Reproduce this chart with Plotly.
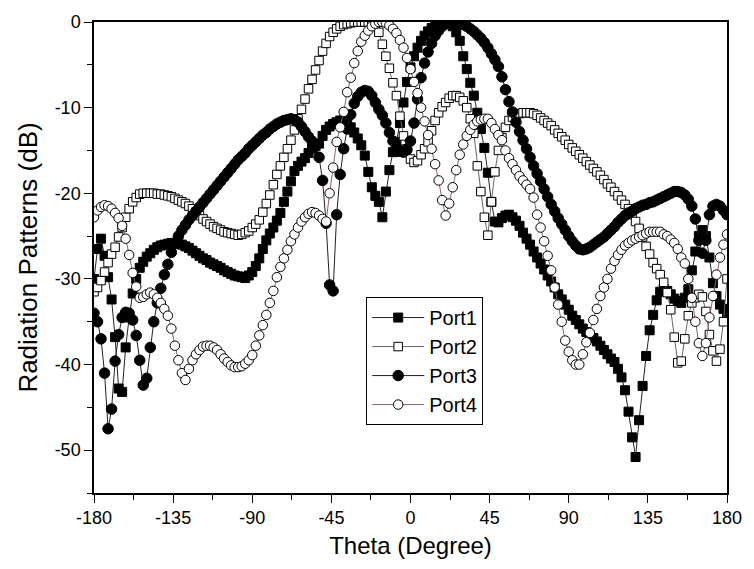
import plotly.graph_objects as go

theta = list(range(-180, 181, 2))

port1 = [
    -30, -26.5, -25.3, -27.3, -29.8, -32.4, -36.8, -42.8, -43.2, -38,
    -34.5, -31.7, -30, -28.7, -28, -27.4, -27, -26.6, -26.3, -26.1,
    -26, -25.9, -25.8, -25.8, -25.9, -26, -26.2, -26.4, -26.7, -27,
    -27.3, -27.6, -27.8, -28.1, -28.3, -28.5, -28.7, -29, -29.2, -29.4,
    -29.6, -29.7, -29.8, -29.9, -29.6, -29.2, -28.5, -27.6, -26.5, -25.5,
    -24.7, -24, -23.2, -22.3, -21, -19.8, -18.6, -17.4, -16.8, -16.3,
    -15.9, -15.3, -14.8, -14.5, -14.2, -13.3, -12.6, -12.2, -11.9, -11.7,
    -11.5, -11.5, -11.8, -12.3, -12.9, -13.6, -14.4, -15.6, -17.5, -19.3,
    -20.3, -21, -22.8, -19.8, -17.3, -15.2, -14, -11.8, -9.4, -7,
    -5.3, -4, -3, -2.2, -1.6, -1.1, -0.7, -0.4, -0.2, -0.05,
    0, -0.1, -0.5, -1.2, -2.2, -4, -5.5, -7.1, -8.6, -10.6,
    -12.5, -14.7, -17.6, -21, -23.3, -23.4, -22.9, -22.6, -22.5, -22.8,
    -23.2, -23.8, -24.6, -25.3, -26, -26.8, -27.5, -28.2, -28.9, -29.6,
    -30.3, -31, -31.8, -32.4, -33, -33.6, -34.3, -34.8, -35.3, -35.8,
    -36.2, -36.6, -36.9, -37.3, -37.8, -38.3, -38.8, -39.3, -39.7, -40.5,
    -41.5, -43, -45.5, -48.5, -50.8, -46.5, -42.5, -39, -36, -34.2,
    -32.5, -31.5, -31.2, -31.4, -31.8, -32.3, -32.6, -32.8, -32.2, -31.2,
    -29, -26.8, -25, -24.3, -25, -27.5, -30.5, -32, -33, -33.5,
    -34,
]

port2 = [
    -31.5, -31, -30.2, -29.2, -28.1, -27.1, -26.3, -25.1, -24, -22.8,
    -21.8, -21, -20.5, -20.1, -20, -20, -20, -20, -20.1, -20.1,
    -20.2, -20.3, -20.4, -20.6, -20.8, -21, -21.2, -21.5, -21.8, -22.2,
    -22.6, -23, -23.3, -23.6, -23.9, -24.1, -24.3, -24.5, -24.6, -24.7,
    -24.8, -24.9, -24.8, -24.6, -24.4, -24, -23.6, -23.1, -22.2, -21.2,
    -20.2, -19, -17.8, -16.8, -15.8, -14.8, -13.8, -12.6, -11.3, -10.2,
    -9, -7.8, -6.7, -5.6, -4.5, -3.4, -2.5, -1.7, -1.2, -0.8,
    -0.5, -0.3, -0.2, -0.1, 0, 0, 0, 0, 0, -0.1,
    -0.4, -1.2, -2.6, -4, -5.4, -7.1, -8.6, -11, -13.3, -14.8,
    -16, -16.4, -16.2, -15.5, -14.8, -14, -12.7, -11.5, -10.6, -9.9,
    -9.4, -8.9, -8.6, -8.6, -8.8, -9.2, -10, -11.3, -13, -16.8,
    -19.8, -22.8, -24.9, -21, -17.5, -15, -13.5, -12.3, -11.5, -11.1,
    -10.8, -10.7, -10.6, -10.6, -10.6, -10.7, -10.9, -11.2, -11.5, -11.8,
    -12.1, -12.6, -13, -13.4, -13.8, -14.3, -14.7, -15.1, -15.5, -15.9,
    -16.3, -16.7, -17.1, -17.5, -17.9, -18.4, -18.9, -19.3, -19.8, -20.3,
    -20.8, -21.3, -21.8, -22.5, -23.3, -24.1, -25.1, -26.2, -27.1, -28.1,
    -28.8, -29.5, -30.4, -31.6, -33.6, -36.8, -39.8, -39.6, -37, -34.3,
    -32.8, -32.2, -31.8, -32.1, -33.8, -36.5, -38.4, -39.6, -38.2, -35,
    -30,
]

port3 = [
    -34, -35, -37, -41, -47.5, -45.2, -39.6, -36.5, -34.5, -33.9,
    -34, -34.8, -36.6, -39.5, -42.4, -41.6, -38, -35, -32.8, -31.1,
    -29.5, -28.3, -26.9, -25.8, -25, -24.3, -23.7, -23.1, -22.6, -22.1,
    -21.6, -21.1, -20.6, -20.1, -19.6, -19.1, -18.6, -18.1, -17.6, -17.1,
    -16.6, -16.1, -15.7, -15.3, -14.8, -14.4, -14, -13.6, -13.2, -12.9,
    -12.5, -12.2, -11.9, -11.7, -11.5, -11.4, -11.3, -11.4, -11.7, -12.2,
    -12.8, -13.4, -13.9, -14.3, -15.8, -18.5, -23.5, -30.7, -31.4, -22.5,
    -17.8, -14.8, -12.5, -10.8, -9.5, -8.7, -8.2, -8, -8.1, -8.6,
    -9.4, -10.2, -10.9, -11.8, -12.9, -13.9, -14.6, -15.1, -15.2, -14.9,
    -13.9, -11.8, -9, -6.5, -4.8, -3.5, -2.5, -1.6, -1, -0.5,
    -0.2, 0, 0, 0, -0.1, -0.3, -0.5, -0.8, -1.1, -1.5,
    -1.9, -2.4, -3, -3.7, -4.4, -5.2, -6.4, -7.9, -9.3, -10.5,
    -11.7, -12.8, -13.8, -14.8, -15.8, -16.8, -17.7, -18.6, -19.5, -20.4,
    -21.3, -22.1, -22.9, -23.6, -24.3, -25, -25.6, -26.1, -26.5, -26.6,
    -26.5, -26.3, -26, -25.7, -25.4, -25.1, -24.7, -24.3, -23.9, -23.4,
    -23, -22.6, -22.3, -22.1, -21.8, -21.6, -21.4, -21.3, -21.1, -21,
    -20.8, -20.6, -20.4, -20.2, -20, -19.8, -19.8, -19.9, -20.2, -20.7,
    -21.5, -23, -25.5, -27, -25.5, -22.5, -21.5, -21.3, -21.5, -22,
    -22.5,
]

port4 = [
    -22.8, -22, -21.6, -21.4, -21.5, -21.8, -22.3, -22.9, -23.8, -25.3,
    -27.2, -29.3, -30.9, -32.2, -32.1, -31.8, -31.6, -31.8, -32.2, -32.8,
    -33.5, -34.3, -35.8, -37.8, -39.5, -41, -41.8, -40.5, -39.5, -38.8,
    -38.3, -37.9, -37.8, -37.8, -38, -38.3, -38.8, -39.3, -39.7, -40.1,
    -40.3, -40.3, -40.2, -39.9, -39.5, -38.9, -37.8, -36.6, -35.4, -34.2,
    -32.8, -31.4, -29.8, -28.6, -27.6, -26.6, -25.6, -24.8, -24, -23.3,
    -22.8, -22.4, -22.2, -22.3, -22.6, -23, -23.3, -20, -17, -14,
    -12.3, -10.5, -8.2, -6.5, -4.8, -3.4, -2.3, -1.6, -1, -0.5,
    -0.2, 0, 0, -0.1, -0.4, -0.8, -1.3, -2.1, -3, -4.2,
    -5.5, -7, -8.3, -10, -11.6, -13.2, -14.8, -16.6, -18.5, -20.8,
    -22.6, -21.2, -19.3, -17.3, -15.5, -14.3, -13.3, -12.6, -12, -11.6,
    -11.4, -11.3, -11.3, -11.8, -12.5, -13.2, -13.8, -15, -15.9, -16.6,
    -17.3, -18, -18.5, -19, -19.5, -20.5, -22.5, -24, -25.6, -27.3,
    -29, -31, -33, -35, -37.2, -38.5, -39.5, -40, -40, -38.8,
    -37.4, -36.3, -34.8, -33.5, -32, -31, -30, -28.8, -27.9, -27.2,
    -26.6, -26.1, -25.8, -25.5, -25.3, -25.1, -24.9, -24.7, -24.5, -24.5,
    -24.5, -24.5, -24.8, -25, -25.4, -25.8, -26.5, -27.5, -28.2, -30,
    -32.2, -35, -37.5, -39, -37.5, -34.5, -32, -29.5, -27.5, -26,
    -24.8,
]

names = ["Port1", "Port2", "Port3", "Port4"]
series = [port1, port2, port3, port4]
symbols = ["square", "square", "circle", "circle"]
fills = ["black", "white", "black", "white"]
sizes = [9, 8.5, 10.5, 9.5]
linecolors = ["#222222", "#666666", "#222222", "#886666"]

x_ticks = [-180, -135, -90, -45, 0, 45, 90, 135, 180]
y_ticks = [0, -10, -20, -30, -40, -50]

FONT = "Liberation Sans, Arial, sans-serif"

fig = go.Figure()
for name, ys, sym, fc, sz, lc in zip(names, series, symbols, fills, sizes, linecolors):
    fig.add_trace(go.Scatter(
        x=theta, y=ys, name=name, mode="lines+markers",
        line=dict(color=lc, width=1),
        marker=dict(symbol=sym, size=sz, color=fc, line=dict(color="black", width=1)),
    ))

axis_common = dict(showgrid=False, zeroline=False, linecolor="black", linewidth=1.5,
                   tickcolor="black", tickwidth=1.2)

fig.update_layout(
    width=754, height=569,
    margin=dict(l=94, r=19, t=19, b=76, pad=0),
    paper_bgcolor="white", plot_bgcolor="white",
    font=dict(family=FONT, color="black"),
    showlegend=True,
    legend=dict(x=0.43, y=0.416, xanchor="left", yanchor="top",
                bgcolor="white", bordercolor="black", borderwidth=1,
                font=dict(size=20, family=FONT), itemwidth=52,
                tracegroupgap=0),
    xaxis=dict(range=[-180, 180], tickvals=x_ticks, ticktext=[str(v) for v in x_ticks],
               ticks="outside", ticklen=8, mirror=True, showline=True,
               tickfont=dict(size=18),
               minor=dict(ticks="outside", ticklen=5, tick0=-157.5, dtick=45, tickcolor="black"),
               title=dict(text="Theta (Degree)", font=dict(size=24), standoff=10),
               **axis_common),
    yaxis=dict(range=[-55, 0], tickvals=y_ticks, ticktext=[str(v) for v in y_ticks],
               ticks="outside", ticklen=8, mirror=True, showline=True,
               tickfont=dict(size=18),
               minor=dict(ticks="outside", ticklen=5, tick0=-5, dtick=10, tickcolor="black"),
               title=dict(text="Radiation Patterns (dB)", font=dict(size=26), standoff=10),
               **axis_common),
    xaxis2=dict(overlaying="x", side="top", anchor="y", range=[-180, 180],
                tickvals=x_ticks, ticks="inside", ticklen=8, showticklabels=False,
                minor=dict(ticks="inside", ticklen=5, tick0=-157.5, dtick=45, tickcolor="black"),
                showgrid=False, zeroline=False, showline=False, tickcolor="black", tickwidth=1.2),
    yaxis2=dict(overlaying="y", side="right", anchor="x", range=[-55, 0],
                tickvals=y_ticks, ticks="inside", ticklen=8, showticklabels=False,
                minor=dict(ticks="inside", ticklen=5, tick0=-5, dtick=10, tickcolor="black"),
                showgrid=False, zeroline=False, showline=False, tickcolor="black", tickwidth=1.2),
)

fig.write_html("out.html")
